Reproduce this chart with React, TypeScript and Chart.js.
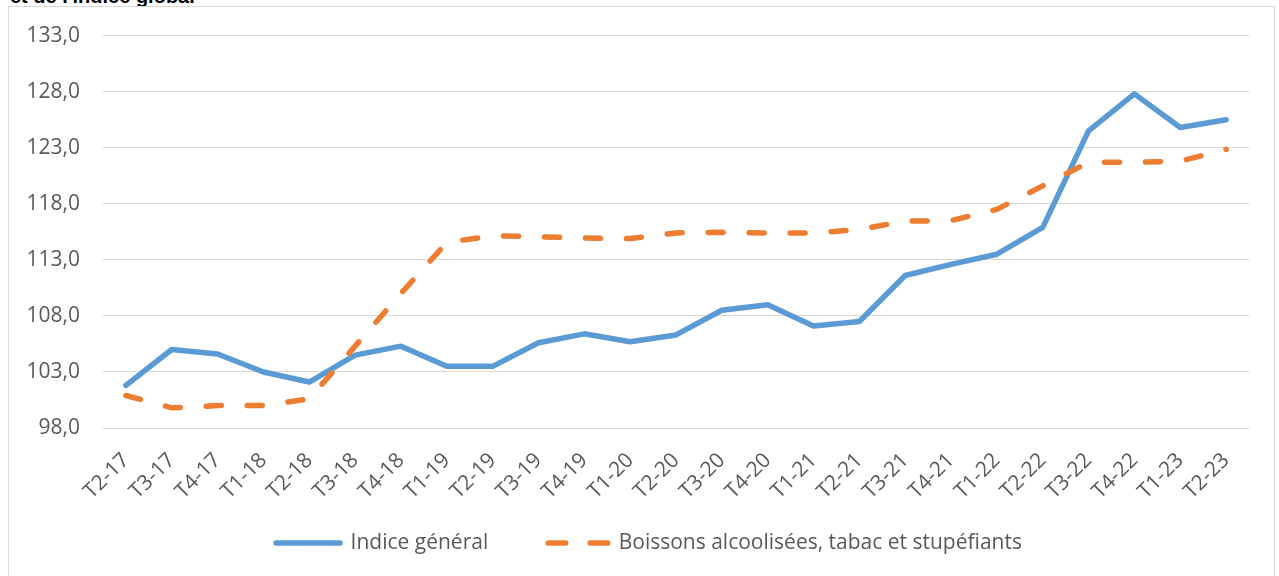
import React, { useEffect, useRef } from "react";
import { Chart, registerables } from "chart.js";

Chart.register(...registerables);

const categories = [
  "T2-17", "T3-17", "T4-17", "T1-18", "T2-18", "T3-18", "T4-18", "T1-19", "T2-19",
  "T3-19", "T4-19", "T1-20", "T2-20", "T3-20", "T4-20", "T1-21", "T2-21", "T3-21",
  "T4-21", "T1-22", "T2-22", "T3-22", "T4-22", "T1-23", "T2-23",
];

const indiceGeneral = [
  101.8, 105.0, 104.6, 103.0, 102.1, 104.5, 105.3, 103.5, 103.5, 105.6, 106.4, 105.7,
  106.3, 108.5, 109.0, 107.1, 107.5, 111.6, 112.6, 113.5, 115.9, 124.5, 127.8, 124.8, 125.5,
];

const boissons = [
  100.9, 99.8, 100.0, 100.0, 100.6, 105.3, 110.0, 114.55, 115.15, 115.05, 114.95, 114.9,
  115.4, 115.45, 115.4, 115.4, 115.7, 116.45, 116.5, 117.5, 119.6, 121.7, 121.7, 121.8, 122.85,
];

const yTicks = [98, 103, 108, 113, 118, 123, 128, 133];

const seriesNames = ["Indice général", "Boissons alcoolisées, tabac et stupéfiants"];

const titleText = "et de l'indice global";

const FONT = "'Open Sans', sans-serif";

// Let tick labels overflow their scale boxes (Excel-like layout).
const noLabelClip = {
  id: "noLabelClip",
  afterLayout(chart: any) {
    Object.values(chart.scales).forEach((s: any) => {
      s._computeLabelArea = () => undefined;
    });
  },
};

export default function App() {
  const canvasRef = useRef<HTMLCanvasElement | null>(null);

  useEffect(() => {
    const canvas = canvasRef.current;
    if (!canvas) return;
    const chart = new Chart(canvas, {
      type: "line",
      data: {
        labels: categories,
        datasets: [
          {
            label: seriesNames[0],
            data: indiceGeneral,
            borderColor: "#5B9BD5",
            backgroundColor: "#5B9BD5",
            borderWidth: 5.5,
            pointRadius: 0,
            pointHoverRadius: 0,
            tension: 0,
            borderCapStyle: "round",
            borderJoinStyle: "round",
            fill: false,
            order: 1,
          },
          {
            label: seriesNames[1],
            data: boissons,
            borderColor: "#ED7D31",
            backgroundColor: "#ED7D31",
            borderWidth: 5.5,
            borderDash: [15, 26],
            pointRadius: 0,
            pointHoverRadius: 0,
            tension: 0,
            borderCapStyle: "round",
            borderJoinStyle: "round",
            fill: false,
            order: 0,
          },
        ],
      },
      plugins: [noLabelClip],
      options: {
        responsive: false,
        animation: false,
        layout: { padding: { left: 49, right: 30, top: 34, bottom: 12.5 } },
        plugins: {
          legend: {
            display: true,
            position: "bottom",
            labels: {
              usePointStyle: true,
              pointStyle: "line",
              pointStyleWidth: 64,
              padding: 56,
              color: "#595959",
              font: { family: FONT, size: 21 },
              sort: (a: any, b: any) => a.datasetIndex - b.datasetIndex,
              generateLabels: (c: any) => {
                const items = Chart.defaults.plugins.legend.labels.generateLabels(c);
                return items.map((it: any) => {
                  const ds = c.data.datasets[it.datasetIndex];
                  it.lineWidth = ds.borderWidth;
                  it.lineCap = "round";
                  it.strokeStyle = ds.borderColor;
                  if (ds.borderDash) {
                    it.lineDash = [17.5, 24.5];
                    it.lineDashOffset = 38;
                  }
                  return it;
                });
              },
            },
          },
          tooltip: { enabled: false },
        },
        scales: {
          x: {
            type: "category",
            offset: true,
            grid: { display: false, drawTicks: false },
            border: { display: false },
            ticks: {
              autoSkip: false,
              minRotation: 45,
              maxRotation: 45,
              padding: 20,
              color: "#595959",
              font: { family: FONT, size: 21 },
            },
            afterFit: (scale: any) => {
              scale.height = 48.5;
            },
          },
          y: {
            min: 98,
            max: 133,
            grid: { color: "#D9D9D9", lineWidth: 1, drawTicks: false },
            border: { display: false },
            ticks: {
              padding: 23,
              color: "#595959",
              font: { family: FONT, size: 21 },
              callback: (v: any) => Number(v).toFixed(1).replace(".", ","),
            },
            afterBuildTicks: (scale: any) => {
              scale.ticks = yTicks.map((v) => ({ value: v }));
            },
            afterFit: (scale: any) => {
              scale.width = 54;
            },
          },
        },
      },
    });
    return () => chart.destroy();
  }, []);

  return (
    <div style={{ position: "fixed", left: 0, top: 0, width: 1279, height: 576, overflow: "hidden", background: "#fff" }}>
      <div
        style={{
          position: "absolute",
          left: 10,
          top: -14,
          fontFamily: "'Liberation Sans', Arial, sans-serif",
          fontWeight: "bold",
          fontSize: 20,
          lineHeight: "20px",
          color: "#000",
          whiteSpace: "nowrap",
        }}
      >
        {titleText}
      </div>
      <div
        style={{
          position: "absolute",
          left: 8,
          top: 6,
          width: 1267,
          height: 640,
          border: "1px solid #D9D9D9",
          boxSizing: "border-box",
        }}
      />
      <canvas
        ref={canvasRef}
        width={1279}
        height={576}
        style={{ position: "absolute", left: 0, top: 0, display: "block" }}
      />
    </div>
  );
}
